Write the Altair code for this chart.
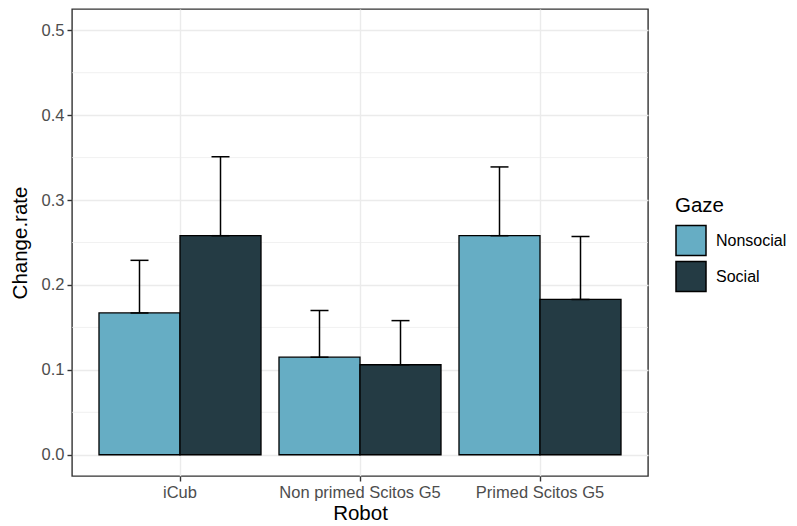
import altair as alt
import pandas as pd

robots = ["iCub", "Non primed Scitos G5", "Primed Scitos G5"]
gaze_levels = ["Nonsocial", "Social"]
nonsocial_mean = [0.167, 0.115, 0.258]
social_mean = [0.258, 0.106, 0.183]
nonsocial_upper = [0.229, 0.170, 0.339]
social_upper = [0.351, 0.158, 0.257]
y_ticks = [0.0, 0.1, 0.2, 0.3, 0.4, 0.5]
y_minor = [0.05, 0.15, 0.25, 0.35, 0.45]
colors = ["#66adc4", "#243b44"]

rows = []
for i, r in enumerate(robots):
    rows.append({"Robot": r, "Gaze": "Nonsocial", "mean": nonsocial_mean[i], "upper": nonsocial_upper[i]})
    rows.append({"Robot": r, "Gaze": "Social", "mean": social_mean[i], "upper": social_upper[i]})
df = pd.DataFrame(rows)
minor_df = pd.DataFrame({"v": y_minor})

FONT = "Liberation Sans"
GRID = "#ebebeb"

yscale = alt.Scale(domain=[-0.025, 0.525], nice=False, zero=False)
xscale = alt.Scale(domain=robots, paddingInner=0, paddingOuter=0.1)
xoff_scale = alt.Scale(domain=gaze_levels, paddingInner=0, paddingOuter=0.111)

y_axis = alt.Axis(values=y_ticks, format=".1f", grid=True, gridColor=GRID, gridWidth=1.4,
                  tickSize=5, tickColor="#333333", tickWidth=1.4, labelPadding=3,
                  labelFontSize=16.5, labelColor="#4d4d4d", labelFont=FONT,
                  title="Change.rate", titleFontSize=20.5, titleFontWeight="normal",
                  titleColor="black", titleFont=FONT, titleX=-52, titleBaseline="middle",
                  domain=False)
x_axis = alt.Axis(labelAngle=0, bandPosition=0.5, grid=True, gridColor=GRID, gridWidth=1.4,
                  tickSize=5, tickColor="#333333", tickWidth=1.4, labelPadding=3,
                  labelFontSize=16.5, labelColor="#4d4d4d", labelFont=FONT,
                  title="Robot", titleFontSize=20.5, titleFontWeight="normal",
                  titleColor="black", titleFont=FONT, titleY=43, titleBaseline="alphabetic",
                  domain=False)

minor = alt.Chart(minor_df).mark_rule(color=GRID, strokeWidth=0.7).encode(
    y=alt.Y("v:Q", scale=yscale, axis=y_axis)
)

base = alt.Chart(df).encode(
    x=alt.X("Robot:N", scale=xscale, sort=robots, axis=x_axis),
    xOffset=alt.XOffset("Gaze:N", scale=xoff_scale, sort=gaze_levels),
)

bars = base.mark_bar(stroke="black", strokeWidth=1.3).encode(
    y=alt.Y("mean:Q", scale=yscale, axis=y_axis),
    y2=alt.datum(0),
    color=alt.Color("Gaze:N", scale=alt.Scale(domain=gaze_levels, range=colors),
                    legend=alt.Legend(orient="none", legendX=603, legendY=187,
                                      symbolType="square", symbolSize=900,
                                      symbolStrokeColor="black", symbolStrokeWidth=1.5,
                                      symbolOpacity=1,
                                      labelFontSize=16, labelFont=FONT, labelColor="black",
                                      titleFontSize=20.5, titleFont=FONT, titleColor="black",
                                      titleFontWeight="normal", rowPadding=0, labelOffset=9,
                                      titlePadding=8, padding=0)),
)

err = base.mark_rule(color="black", strokeWidth=1.5).encode(
    y=alt.Y("mean:Q", scale=yscale, axis=y_axis),
    y2="upper:Q",
)
cap_top = base.mark_tick(color="black", thickness=1.5, size=18, opacity=1).encode(
    y=alt.Y("upper:Q", scale=yscale, axis=y_axis),
)
cap_low = base.mark_tick(color="black", thickness=1.5, size=18, opacity=1).encode(
    y=alt.Y("mean:Q", scale=yscale, axis=y_axis),
)

chart = alt.layer(minor, bars, err, cap_top, cap_low).properties(
    width=576, height=467,
    autosize=alt.AutoSizeParams(type="none"),
    padding={"left": 64, "top": 1, "right": 141, "bottom": 48},
    background="white",
).configure_view(stroke="#333333", strokeWidth=1.4)

chart.save("out.html", embed_options={"renderer": "svg", "actions": False})
